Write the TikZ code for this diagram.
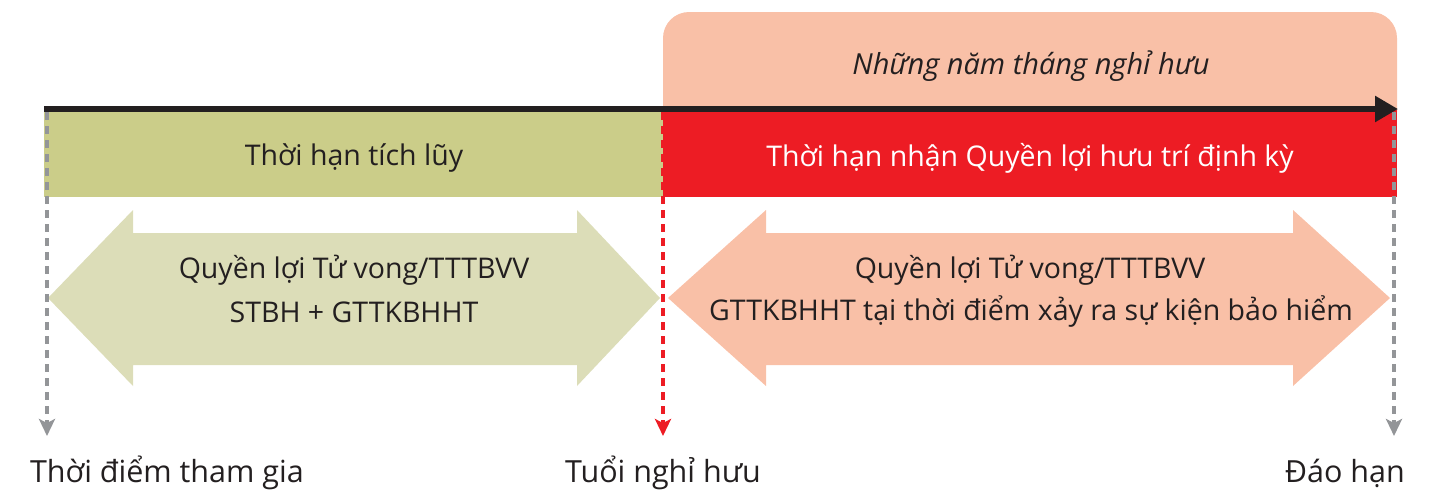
\documentclass[tikz,border=0pt]{standalone}
\usepackage{fontspec}
\setmainfont{Open Sans}
\usetikzlibrary{arrows.meta}
\definecolor{olive}{HTML}{CBCD89}
\definecolor{lolive}{HTML}{DCDDB8}
\definecolor{peach}{HTML}{F9C0A7}
\definecolor{hred}{HTML}{ED1C24}
\definecolor{ink}{HTML}{231F20}
\definecolor{dgray}{HTML}{939598}
\tikzset{
  txt/.style={text=ink, font=\fontsize{28.5}{34}\selectfont, align=center, inner sep=0pt},
  lbl/.style={text=ink, font=\fontsize{30.5}{36}\selectfont, inner sep=0pt, anchor=base},
  vdash/.style={line width=4pt, dash pattern=on 8pt off 6pt, -{Stealth[length=17pt,width=16pt,inset=4pt]}},
  timeline/.style={line width=5.5pt, ink, -{Triangle[length=23pt,width=25pt]}}
}
\begin{document}
\begin{tikzpicture}[x=1pt,y=-1pt]
\useasboundingbox (0,0) rectangle (1429,491);
% peach top box
\fill[peach] (663,112) [rounded corners=26pt] -- (663,12) -- (1397,12) [sharp corners] -- (1397,112) -- cycle;
\node[txt, font=\fontsize{29}{34}\selectfont\itshape] (retyears) at (1031,66) {Những năm tháng nghỉ hưu};
% bands
\fill[olive] (44,110) rectangle (663,197);
\fill[hred] (663,110) rectangle (1397,197);
\node[txt] (accum) at (354,158) {Thời hạn tích lũy};
\node[txt, text=white] (payout) at (1030,158) {Thời hạn nhận Quyền lợi hưu trí định kỳ};
% double arrows
\fill[lolive] (48,298) -- (133,210) -- (133,233) -- (577,233) -- (577,210) -- (660,298)
  -- (577,386) -- (577,365) -- (133,365) -- (133,386) -- cycle;
\fill[peach] (668,298) -- (766,210) -- (766,233) -- (1293,233) -- (1293,210) -- (1390,298)
  -- (1293,386) -- (1293,365) -- (766,365) -- (766,386) -- cycle;
\node[txt] (benL1) at (354,270) {Quyền lợi Tử vong/TTTBVV};
\node[txt] (benL2) at (354,312) {STBH + GTTKBHHT};
\node[txt] (benR1) at (1030,270) {Quyền lợi Tử vong/TTTBVV};
\node[txt] (benR2) at (1031,312) {GTTKBHHT tại thời điểm xảy ra sự kiện bảo hiểm};
% timeline
\coordinate (tstart) at (44,109);
\coordinate (tend) at (1398,109);
\draw[timeline] (tstart) -- (tend);
% dashed verticals
\coordinate (d1a) at (47,112);
\coordinate (d1b) at (47,436);
\coordinate (d2a) at (663,112);
\coordinate (d2b) at (663,436);
\coordinate (d3a) at (1394,112);
\coordinate (d3b) at (1394,436);
\draw[vdash, dgray] (d1a) -- (d1b);
\draw[vdash, hred] (d2a) -- (d2b);
\draw[vdash, dgray] (d3a) -- (d3b);
% bottom labels
\node[lbl] (join) at (167,482) {Thời điểm tham gia};
\node[lbl] (retire) at (663,482) {Tuổi nghỉ hưu};
\node[lbl] (mature) at (1345,482) {Đáo hạn};
\end{tikzpicture}
\end{document}
